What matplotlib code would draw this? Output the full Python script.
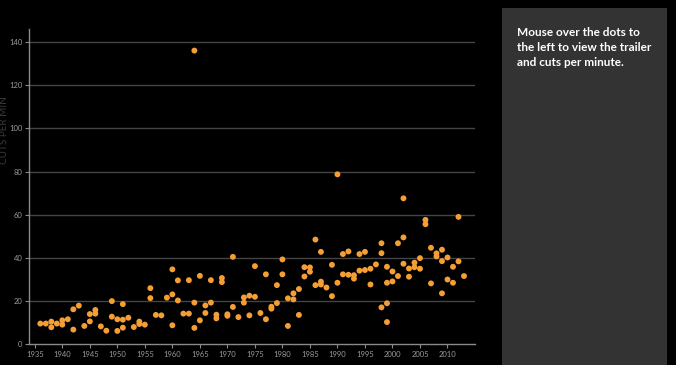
import matplotlib
matplotlib.use("Agg")
import matplotlib.pyplot as plt

# ---- data (year, cuts per minute) ----
years = [
    1936, 1937, 1938, 1938, 1939, 1940, 1940, 1941, 1942, 1942, 1943, 1944,
    1945, 1945, 1946, 1946, 1947, 1948, 1949, 1949, 1950, 1950, 1951, 1951, 1951,
    1952, 1953, 1954, 1954, 1955, 1956, 1956, 1957, 1958, 1959, 1960, 1960, 1960,
    1961, 1961, 1962, 1963, 1963, 1964, 1964, 1964, 1965, 1965, 1966, 1966,
    1967, 1967, 1968, 1968, 1969, 1969, 1970, 1970, 1971, 1971, 1972,
    1973, 1973, 1974, 1974, 1975, 1975, 1976, 1977, 1977, 1978, 1978, 1979, 1979,
    1980, 1980, 1981, 1981, 1982, 1982, 1983, 1983, 1984, 1984, 1985, 1985,
    1986, 1986, 1987, 1987, 1987, 1988, 1989, 1989, 1990, 1990, 1991, 1991,
    1992, 1992, 1993, 1993, 1994, 1994, 1995, 1995, 1996, 1996, 1997,
    1998, 1998, 1998, 1999, 1999, 1999, 1999, 2000, 2000, 2001, 2001,
    2002, 2002, 2002, 2003, 2003, 2004, 2004, 2005, 2005, 2006, 2006,
    2007, 2007, 2008, 2008, 2009, 2009, 2009, 2010, 2010, 2011, 2011,
    2012, 2012, 2013,
]
cuts = [
    9.6, 9.6, 10.5, 7.9, 9.6, 11.1, 9.1, 11.6, 16.2, 6.8, 17.9, 8.5,
    14.0, 10.6, 15.9, 14.2, 8.3, 6.3, 20.0, 12.8, 11.6, 6.2, 18.6, 11.4, 7.7,
    12.3, 8.0, 10.5, 9.4, 9.1, 26.0, 21.4, 13.6, 13.4, 21.6, 34.7, 23.1, 8.8,
    29.6, 20.3, 14.2, 29.7, 14.2, 19.3, 7.6, 136.0, 31.7, 11.1, 18.0, 14.5,
    29.7, 19.3, 13.7, 12.0, 30.7, 28.8, 13.9, 13.2, 40.5, 17.3, 12.6,
    19.3, 21.7, 22.5, 13.4, 22.0, 36.2, 14.5, 32.4, 11.6, 17.4, 16.5, 27.4, 19.1,
    39.3, 32.4, 21.3, 8.5, 23.6, 20.8, 25.6, 13.6, 35.7, 31.4, 35.6, 33.6,
    48.5, 27.4, 42.8, 29.0, 27.7, 26.3, 36.8, 22.3, 28.5, 78.7, 41.8, 32.4,
    43.0, 32.2, 32.0, 30.4, 41.8, 34.1, 42.8, 34.4, 35.0, 27.7, 37.0,
    46.8, 42.2, 17.1, 35.9, 28.5, 19.0, 10.3, 33.7, 29.1, 46.8, 31.6,
    67.6, 49.5, 37.3, 35.1, 31.3, 37.8, 35.7, 39.9, 35.0, 57.6, 55.6,
    44.7, 28.2, 42.1, 40.7, 43.8, 38.5, 23.6, 40.2, 30.0, 35.9, 28.5,
    59.0, 38.4, 31.6,
]
x_ticks = [1935, 1940, 1945, 1950, 1955, 1960, 1965, 1970, 1975, 1980,
           1985, 1990, 1995, 2000, 2005, 2010]
y_ticks = [0, 20, 40, 60, 80, 100, 120, 140]
y_label = "CUTS PER MIN"
panel_text = "Mouse over the dots to\nthe left to view the trailer\nand cuts per minute."

W, H = 676, 365
fig = plt.figure(figsize=(W / 100, H / 100), dpi=100, facecolor="black")
plt.rcParams["font.family"] = ["Lato", "DejaVu Sans"]

ax = fig.add_axes([29.3 / W, (H - 344.3) / H, (475 - 29.3) / W, (344.3 - 29) / H])
ax.set_facecolor("black")
ax.set_xlim(1934, 2015)
ax.set_ylim(0, 146)

for yv in y_ticks[1:]:
    ax.axhline(yv, color="#444444", lw=1.0, zorder=1)

ax.scatter(years, cuts, s=18, color="#f59e33", edgecolors="none", zorder=3)

for side in ["top", "right"]:
    ax.spines[side].set_visible(False)
for side in ["left", "bottom"]:
    ax.spines[side].set_color("#8a8a8a")
    ax.spines[side].set_linewidth(1.0)

ax.set_xticks(x_ticks)
ax.set_yticks(y_ticks)
ax.tick_params(axis="both", colors="#8a8a8a", labelcolor="#9a9a9a",
               labelsize=5.5, length=3, width=0.8, pad=2)

fig.text(0 / W, (H - 130) / H, y_label, rotation=90, ha="left", va="center",
         color="#3a3a3a", fontsize=7.2)

panel = plt.Rectangle((502 / W, 0), (667 - 502) / W, (H - 8) / H,
                      transform=fig.transFigure, facecolor="#333333",
                      edgecolor="none", zorder=0)
fig.patches.append(panel)
fig.text(517 / W, (H - 26.5) / H, panel_text, ha="left", va="top", color="white",
         fontsize=8.5, fontweight="bold", linespacing=1.45)

fig.savefig("out.png", dpi=100, facecolor="black")
